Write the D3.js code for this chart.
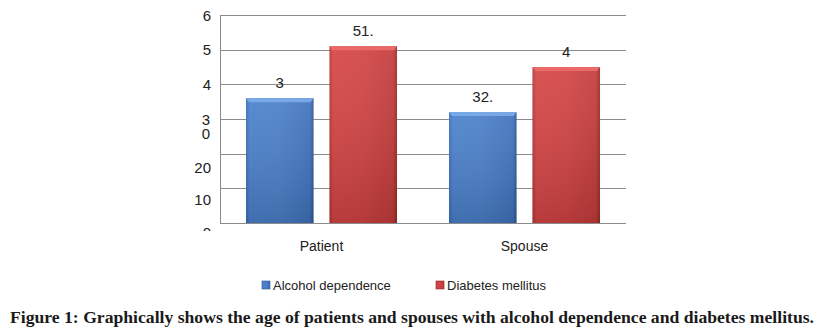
<!DOCTYPE html>
<html>
<head>
<meta charset="utf-8">
<script src="https://cdn.jsdelivr.net/npm/d3@7"></script>
<style>
  body { margin: 0; background: #fff; }
  svg { display: block; }
</style>
</head>
<body>
<div id="chart"></div>
<script>
// data
let groups = ["Patient", "Spouse"];
let series = ["Alcohol dependence", "Diabetes mellitus"];
let alcohol = [36, 32];
let diabetes = [51, 45];
let barLabels = [["3", "51."], ["32.", "4"]];
let tickValues = [0, 10, 20, 30, 40, 50, 60];
let tickLabels = ["0", "10", "20", "3\n0", "4", "5", "6"];
let caption = "Figure 1: Graphically shows the age of patients and spouses with alcohol dependence and diabetes mellitus.";

let W = 824, H = 331;
let margin = {top: 15, right: 198, bottom: 108, left: 220},
    width = W - margin.left - margin.right,
    height = H - margin.top - margin.bottom;

let svg = d3.select("#chart").append("svg")
    .attr("width", W)
    .attr("height", H);

let defs = svg.append("defs");
function grad(id, stops) {
    let g = defs.append("linearGradient").attr("id", id)
        .attr("x1", 0).attr("y1", 0).attr("x2", 1).attr("y2", 0);
    stops.forEach(s => g.append("stop").attr("offset", s[0]).attr("stop-color", s[1]));
}
grad("gBlue", [[0, "#3b6db6"], [0.06, "#4a81cc"], [0.5, "#4a7fc8"], [0.94, "#3f72bc"], [1, "#2d5899"]]);
grad("gRed", [[0, "#b93636"], [0.06, "#d64545"], [0.5, "#d24343"], [0.94, "#c43b3b"], [1, "#9a2a2a"]]);
let vb = defs.append("linearGradient").attr("id", "gShade")
    .attr("x1", 0).attr("y1", 0).attr("x2", 0).attr("y2", 1);
vb.append("stop").attr("offset", 0).attr("stop-color", "#fff").attr("stop-opacity", 0.08);
vb.append("stop").attr("offset", 1).attr("stop-color", "#000").attr("stop-opacity", 0.14);

let fills = ["url(#gBlue)", "url(#gRed)"];
let tops = ["#78a8e6", "#ea6a6a"];

let g = svg.append("g")
    .attr("transform", "translate(" + margin.left + "," + margin.top + ")");

let y = d3.scaleLinear().domain([0, 60]).range([height, 0]);
let x0 = d3.scaleBand().domain(groups).range([0, width])
    .paddingInner(0.256).paddingOuter(0.128);
let x1 = d3.scaleBand().domain(series).range([0, x0.bandwidth()])
    .paddingInner(0.19);

// gridlines
g.append("g")
    .selectAll("line")
    .data(tickValues)
    .enter()
    .append("line")
    .attr("x1", 0)
    .attr("x2", width)
    .attr("y1", d => Math.round(y(d)) + 0.5)
    .attr("y2", d => Math.round(y(d)) + 0.5)
    .attr("stroke", "#8c8c8c")
    .attr("stroke-width", 1);

// left axis line
g.append("line")
    .attr("x1", 0.5).attr("x2", 0.5)
    .attr("y1", 0).attr("y2", height)
    .attr("stroke", "#8c8c8c");

// y tick labels (broken and shifted in the source image, bottom one cut off)
defs.append("clipPath").attr("id", "clipY")
    .append("rect").attr("x", -60).attr("y", -20).attr("width", 60).attr("height", height + 28);
let ylab = g.append("g").attr("clip-path", "url(#clipY)");
tickValues.forEach(function (v, i) {
    let lines = tickLabels[i].split("\n");
    let shift = v < 30 ? 14 - (20 - v) / 10 * 2.5 : 0;
    let t = ylab.append("text")
        .attr("y", y(v) + 5.5 + shift)
        .style("font-family", "'Liberation Sans', Arial, sans-serif")
        .style("font-size", "15px")
        .style("fill", "#222");
    lines.forEach(function (l, k) {
        t.append("tspan")
            .attr("x", lines.length > 1 ? -14 : -9)
            .attr("dy", k ? 14 : 0)
            .attr("text-anchor", lines.length > 1 ? "middle" : "end")
            .text(l);
    });
});

// bars
let rows = groups.map((gr, i) => ({group: gr, vals: [alcohol[i], diabetes[i]], labels: barLabels[i]}));

let grp = g.append("g")
    .selectAll("g")
    .data(rows)
    .enter()
    .append("g")
    .attr("transform", d => "translate(" + x0(d.group) + ",0)");

let bar = grp.selectAll("g.bar")
    .data(d => d.vals.map((v, j) => ({s: series[j], v: v, j: j, label: d.labels[j]})))
    .enter()
    .append("g")
    .attr("class", "bar");

bar.append("rect")
    .attr("x", d => x1(d.s))
    .attr("y", d => y(d.v))
    .attr("width", x1.bandwidth())
    .attr("height", d => height - y(d.v))
    .attr("fill", d => fills[d.j]);

bar.append("rect")
    .attr("x", d => x1(d.s))
    .attr("y", d => y(d.v))
    .attr("width", x1.bandwidth())
    .attr("height", d => height - y(d.v))
    .attr("fill", "url(#gShade)");

bar.append("path")
    .attr("d", function (d) {
        let xa = x1(d.s), xb = xa + x1.bandwidth(), yt = y(d.v);
        return "M" + xa + "," + yt + "L" + xb + "," + yt + "L" + (xb - 3) + "," + (yt + 4) + "L" + (xa + 3) + "," + (yt + 4) + "Z";
    })
    .attr("fill", d => tops[d.j]);

bar.append("text")
    .attr("x", d => x1(d.s) + x1.bandwidth() / 2)
    .attr("y", d => y(d.v) - 10)
    .attr("text-anchor", "middle")
    .style("font-family", "'Liberation Sans', Arial, sans-serif")
    .style("font-size", "15px")
    .style("fill", "#222")
    .text(d => d.label);

// x labels
g.append("g")
    .selectAll("text")
    .data(groups)
    .enter()
    .append("text")
    .attr("x", d => x0(d) + x0.bandwidth() / 2)
    .attr("y", height + 28)
    .attr("text-anchor", "middle")
    .style("font-family", "'Liberation Sans', Arial, sans-serif")
    .style("font-size", "14px")
    .style("fill", "#222")
    .text(d => d);

// legend
let legX = [262, 436];
let leg = svg.append("g")
    .selectAll("g")
    .data(series)
    .enter()
    .append("g")
    .attr("transform", (d, i) => "translate(" + legX[i] + ",281)");
leg.append("rect")
    .attr("width", 8).attr("height", 8)
    .attr("fill", (d, i) => fills[i])
    .attr("stroke", (d, i) => i ? "#8a2424" : "#2a5090")
    .attr("stroke-width", 0.6);
leg.append("text")
    .attr("x", 11)
    .attr("y", 8.5)
    .style("font-family", "'Liberation Sans', Arial, sans-serif")
    .style("font-size", "13px")
    .style("fill", "#222")
    .text(d => d);

// caption
svg.append("text")
    .attr("x", 10)
    .attr("y", 323)
    .attr("textLength", 804)
    .attr("lengthAdjust", "spacingAndGlyphs")
    .style("font-family", "'Liberation Serif', 'DejaVu Serif', serif")
    .style("font-weight", "bold")
    .style("font-size", "16px")
    .style("fill", "#1a1a1a")
    .text(caption);
</script>
</body>
</html>
